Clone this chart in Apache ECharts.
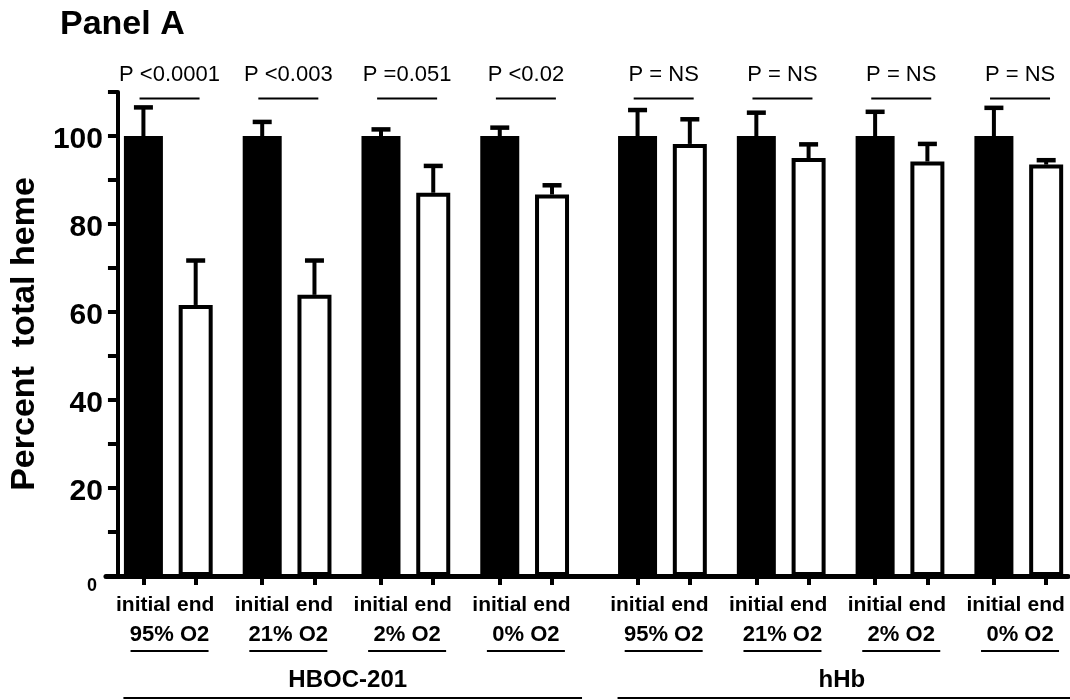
<!DOCTYPE html>
<html>
<head>
<meta charset="utf-8">
<script src="https://cdn.jsdelivr.net/npm/echarts@6/dist/echarts.min.js"></script>
<style>
  html, body { margin: 0; padding: 0; background: #fff; }
  #chart { width: 1070px; height: 700px; }
</style>
</head>
<body>
<div id="chart"></div>
<script>
// ---- data ----
const products = ['HBOC-201', 'hHb'];
const oxygenLevels = ['95% O2', '21% O2', '2% O2', '0% O2', '95% O2', '21% O2', '2% O2', '0% O2'];
const barNames = ['initial', 'end'];
const initialMean = [100, 100, 100, 100, 100, 100, 100, 100];
const initialErr = [6.5, 3.2, 1.5, 1.9, 5.9, 5.3, 5.5, 6.4];
const endMean = [61.6, 63.9, 87.1, 86.7, 98.2, 95.0, 94.2, 93.5];
const endErr = [10.1, 7.8, 6.1, 2.1, 5.6, 3.1, 4.0, 1.0];
const pLabels = ['P <0.0001', 'P <0.003', 'P =0.051', 'P <0.02', 'P = NS', 'P = NS', 'P = NS', 'P = NS'];
const yLabelValues = [0, 20, 40, 60, 80, 100];

// ---- layout helpers (positions on the x value scale) ----
const FONT = '"Liberation Sans", Arial, Helvetica, sans-serif';
const PRODUCT_GAP = 0.16;   // extra space between the two product blocks
const END_OFFSET = 0.44;    // distance from "initial" to "end" bar within a group
const X_MIN = -0.3154, X_MAX = 7.7838;
function initialX(g) { return g + (g >= 4 ? PRODUCT_GAP : 0); }
function endX(g) { return initialX(g) + END_OFFSET; }
function centerX(g) { return initialX(g) + END_OFFSET / 2; }

const groups = initialMean.map((_, g) => g);
const barPositions = [];
groups.forEach(g => { barPositions.push(initialX(g)); barPositions.push(endX(g)); });

const initialData = groups.map(g => [initialX(g), initialMean[g]]);
const endData = groups.map(g => [endX(g), endMean[g]]);
const errData = [];
groups.forEach(g => {
  errData.push([initialX(g), initialMean[g], initialMean[g] + initialErr[g]]);
  errData.push([endX(g), endMean[g], endMean[g] + endErr[g]]);
});
const pData = groups.map(g => [centerX(g), 108.5]);
const groupLabelData = groups.map(g => [centerX(g), 0]);
const productData = products.map((_, p) => [centerX(p * 4), 0]);

const chart = echarts.init(document.getElementById('chart'), null, { renderer: 'canvas' });

const option = {
  animation: false,
  backgroundColor: '#fff',
  title: {
    text: 'Panel A',
    left: 55,
    top: 3,
    textStyle: { fontSize: 34, fontWeight: 'bold', color: '#000', fontFamily: FONT }
  },
  grid: { left: 105, right: 2, top: 92, bottom: 124 },
  xAxis: [
    {
      type: 'value',
      min: X_MIN,
      max: X_MAX,
      axisLine: { show: true, onZero: false, lineStyle: { color: '#000', width: 5 } },
      axisTick: { show: true, customValues: barPositions, length: 9, lineStyle: { color: '#000', width: 4 } },
      axisLabel: {
        customValues: barPositions,
        margin: 19,
        fontSize: 21,
        fontWeight: 'bold',
        color: '#000',
        fontFamily: FONT,
        formatter: function (v) {
          const isEnd = groups.some(g => Math.abs(endX(g) - v) < 1e-6);
          return isEnd ? barNames[1] : barNames[0];
        }
      },
      splitLine: { show: false }
    },
    { type: 'value', min: X_MIN, max: X_MAX, show: false, axisLine: { onZero: false }, splitLine: { show: false } }
  ],
  yAxis: {
    type: 'value',
    min: 0,
    max: 110,
    interval: 10,
    offset: -12,
    axisLine: { show: true, onZero: false, lineStyle: { color: '#000', width: 4 } },
    axisTick: { show: true, length: 10, lineStyle: { color: '#000', width: 4 } },
    axisLabel: {
      margin: 15,
      fontSize: 30,
      fontWeight: 'bold',
      color: '#000',
      fontFamily: FONT,
      formatter: function (v) {
        if (yLabelValues.indexOf(v) < 0) return '';
        return v === 0 ? '{z|0}' : '{n|' + v + '}';
      },
      rich: {
        n: { fontSize: 30, fontWeight: 'bold', color: '#000', fontFamily: FONT, padding: [7, 0, 0, 0] },
        z: { fontSize: 18, fontWeight: 'bold', color: '#000', fontFamily: FONT, padding: [20, 6, 0, 0] }
      }
    },
    splitLine: { show: false },
    name: 'Percent  total heme',
    nameLocation: 'middle',
    nameRotate: 90,
    nameGap: 68,
    nameTextStyle: { fontSize: 34, fontWeight: 'bold', color: '#000', fontFamily: FONT }
  },
  series: [
    {
      name: 'initial',
      type: 'bar',
      xAxisIndex: 0,
      barWidth: 39,
      data: initialData,
      itemStyle: { color: '#000' },
      z: 2
    },
    {
      name: 'end',
      type: 'bar',
      xAxisIndex: 1,
      barWidth: 34,
      data: endData,
      itemStyle: { color: '#fff', borderColor: '#000', borderWidth: 4 },
      z: 2
    },
    {
      name: 'error',
      type: 'custom',
      xAxisIndex: 0,
      clip: false,
      z: 4,
      encode: { x: 0, y: [1, 2] },
      data: errData,
      renderItem: function (params, api) {
        const p0 = api.coord([api.value(0), api.value(1)]);
        const p1 = api.coord([api.value(0), api.value(2)]);
        return {
          type: 'group',
          children: [
            { type: 'line', shape: { x1: p0[0], y1: p0[1], x2: p1[0], y2: p1[1] }, style: { stroke: '#000', lineWidth: 4 } },
            { type: 'line', shape: { x1: p1[0] - 9.5, y1: p1[1], x2: p1[0] + 9.5, y2: p1[1] }, style: { stroke: '#000', lineWidth: 4.5 } }
          ]
        };
      }
    },
    {
      name: 'pvalues',
      type: 'custom',
      xAxisIndex: 0,
      clip: false,
      z: 4,
      encode: { x: 0, y: 1 },
      data: pData,
      renderItem: function (params, api) {
        const p = api.coord([api.value(0), api.value(1)]);
        return {
          type: 'group',
          children: [
            { type: 'line', shape: { x1: p[0] - 30, y1: p[1], x2: p[0] + 30, y2: p[1] }, style: { stroke: '#000', lineWidth: 2 } },
            { type: 'text', x: p[0], y: p[1] - 24, style: { text: pLabels[params.dataIndex], fill: '#000', fontSize: 22, fontFamily: FONT, align: 'center', verticalAlign: 'middle' } }
          ]
        };
      }
    },
    {
      name: 'groupLabels',
      type: 'custom',
      xAxisIndex: 0,
      clip: false,
      z: 4,
      encode: { x: 0, y: 1 },
      data: groupLabelData,
      renderItem: function (params, api) {
        const p = api.coord([api.value(0), api.value(1)]);
        return {
          type: 'group',
          children: [
            { type: 'text', x: p[0], y: p[1] + 59, style: { text: oxygenLevels[params.dataIndex], fill: '#000', fontSize: 22, fontWeight: 'bold', fontFamily: FONT, align: 'center', verticalAlign: 'middle' } },
            { type: 'line', shape: { x1: p[0] - 39, y1: p[1] + 75, x2: p[0] + 39, y2: p[1] + 75 }, style: { stroke: '#000', lineWidth: 2 } }
          ]
        };
      }
    },
    {
      name: 'productLabels',
      type: 'custom',
      xAxisIndex: 0,
      clip: false,
      z: 4,
      encode: { x: 0, y: 1 },
      data: productData,
      renderItem: function (params, api) {
        const i = params.dataIndex;
        const a = api.coord([initialX(i * 4), 0]);
        const b = api.coord([endX(i * 4 + 3), 0]);
        const x1 = a[0] - 20, x2 = b[0] + 30;
        return {
          type: 'group',
          children: [
            { type: 'text', x: (a[0] + b[0]) / 2, y: a[1] + 104, style: { text: products[i], fill: '#000', fontSize: 24, fontWeight: 'bold', fontFamily: FONT, align: 'center', verticalAlign: 'middle' } },
            { type: 'line', shape: { x1: x1, y1: a[1] + 122, x2: x2, y2: a[1] + 122 }, style: { stroke: '#000', lineWidth: 2 } }
          ]
        };
      }
    }
  ]
};

chart.setOption(option);
</script>
</body>
</html>
